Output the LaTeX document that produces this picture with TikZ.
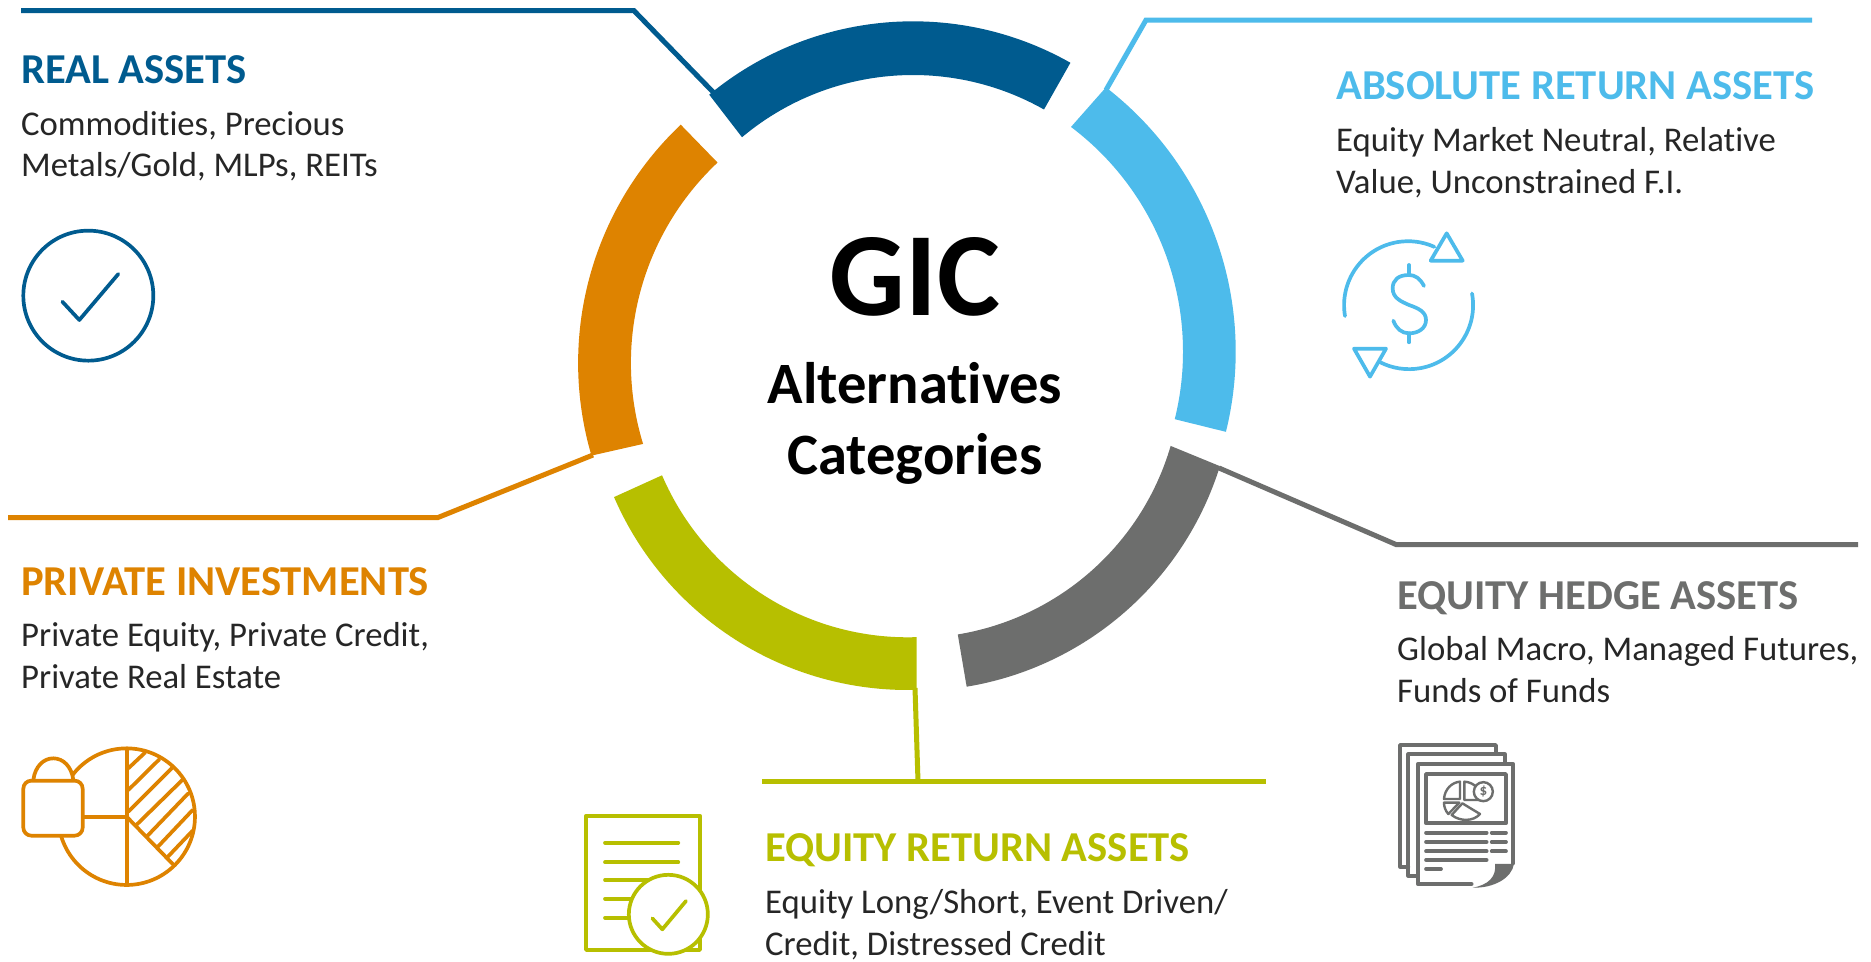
\documentclass[tikz,border=0pt]{standalone}
\usepackage{fontspec}
\setmainfont{Carlito}[Ligatures=NoCommon]
\definecolor{cnavy}{HTML}{005B8F}
\definecolor{csky}{HTML}{4DBBEB}
\definecolor{cgray}{HTML}{6D6E6D}
\definecolor{cgreen}{HTML}{B7BF00}
\definecolor{corange}{HTML}{DE8300}
\tikzset{
  head/.style={anchor=base west,inner sep=0pt,font=\fontsize{42.6}{42.6}\selectfont\bfseries},
  body/.style={anchor=base west,inner sep=0pt,text=black!85,font=\fontsize{34.7}{34.7}\selectfont},
  ctr/.style={anchor=base,inner sep=0pt,text=black,font=\bfseries},
  lead/.style={line width=5pt,line join=miter},
  ico/.style={line width=3.7pt,line cap=round,line join=round},
  thin ico/.style={line width=2.4pt,line cap=round,line join=round},
}
% colour, cx, cy, outer R, inner R, outer start, outer end, inner start, inner end
\newcommand{\ringseg}[9]{\fill[#1] ([shift={(#2,#3)}]#6:#4) arc[start angle=#6,end angle=#7,radius=#4] -- ([shift={(#2,#3)}]#9:#5) arc[start angle=#9,end angle=#8,radius=#5] -- cycle;}
\begin{document}
\begin{tikzpicture}[x=1pt,y=1pt]
\useasboundingbox (0,0) rectangle (1871,-961);
\fill[white] (0,0) rectangle (1871,-961);
% ring
\ringseg{cnavy}{913}{-341}{319.7}{266}{129.6}{60.5}{130}{60.5}
\ringseg{csky}{901.7}{-351.6}{334}{281.3}{52.3}{-13.9}{53}{-13.9}
\ringseg{cgray}{914.4}{-371}{320}{267}{-17.3}{-80.6}{-16.3}{-80.65}
\ringseg{cgreen}{907.7}{-370}{320}{267.3}{-88.4}{-156.6}{-88.1}{-156.8}
\ringseg{corange}{906.1}{-363}{328}{275.2}{196.4}{133.4}{197.1}{133.25}
% connectors
\coordinate (na) at (21,-10.7); \coordinate (nb) at (634,-10.7); \coordinate (nc) at (714,-93);
\coordinate (sa) at (1812,-20); \coordinate (sb) at (1146,-20); \coordinate (sc) at (1106,-90);
\coordinate (ga) at (1858,-544.5); \coordinate (gb) at (1396,-544.5); \coordinate (gc) at (1219,-468);
\coordinate (oa) at (8,-517.5); \coordinate (ob) at (438,-517.5); \coordinate (oc) at (593,-455);
\coordinate (va) at (762,-781.5); \coordinate (vb) at (1266,-781.5); \coordinate (vm) at (918,-781.5); \coordinate (vc) at (915,-688);
\draw[lead,cnavy] (na)--(nb)--(nc);
\draw[lead,csky] (sa)--(sb)--(sc);
\draw[lead,cgray] (ga)--(gb)--(gc);
\draw[lead,corange] (oa)--(ob)--(oc);
\draw[lead,cgreen] (va)--(vb);
\draw[lead,cgreen] (vm)--(vc);
% centre
\node[ctr,font=\fontsize{119}{119}\selectfont\bfseries] (gic) at (915,-315) {GIC};
\node[ctr,font=\fontsize{58.6}{58.6}\selectfont\bfseries] (alt) at (915,-403) {Alternatives};
\node[ctr,font=\fontsize{58.6}{58.6}\selectfont\bfseries] (cat) at (915,-474) {Categories};
% texts
\node[head,text=cnavy] (t1) at (21,-83.5) {REAL ASSETS};
\node[body] (t1a) at (21,-135.5) {Commodities, Precious};
\node[body] (t1b) at (21,-176.5) {Metals/Gold, MLPs, REITs};
\node[head,text=csky] (t2) at (1336,-99.5) {ABSOLUTE RETURN ASSETS};
\node[body] (t2a) at (1336,-151.5) {Equity Market Neutral, Relative};
\node[body] (t2b) at (1336,-193.5) {Value, Unconstrained F.I.};
\node[head,text=corange] (t3) at (21,-595) {PRIVATE INVESTMENTS};
\node[body] (t3a) at (21,-646) {Private Equity, Private Credit,};
\node[body] (t3b) at (21,-688) {Private Real Estate};
\node[head,text=cgray] (t4) at (1397,-609.5) {EQUITY HEDGE ASSETS};
\node[body] (t4a) at (1397,-660.5) {Global Macro, Managed Futures,};
\node[body] (t4b) at (1397,-702.5) {Funds of Funds};
\node[head,text=cgreen] (t5) at (765,-861.5) {EQUITY RETURN ASSETS};
\node[body] (t5a) at (765,-913.5) {Equity Long/Short, Event Driven/};
\node[body] (t5b) at (765,-955) {Credit, Distressed Credit};
% navy icon
\begin{scope}[shift={(0pt,-210pt)},x=0.3333pt,y=-0.3333pt,ico,cnavy]
\draw (265,257) circle[radius=65pt];
\draw (187,275)--(238,330)--(355,192);
\end{scope}
% sky icon
\draw[ico,csky] (1345,-316) arc[start angle=189.7,end angle=65.8,radius=64];
\draw[ico,csky] (1472,-293.5) arc[start angle=10.5,end angle=-117.5,radius=64];
\begin{scope}[shift={(1320pt,-210pt)},x=0.3333pt,y=-0.3333pt,ico,csky]
\draw (380,70)--(332,152)--(428,152)--cycle;
\draw (102,416)--(198,416)--(150,500)--cycle;
\draw (267,165)--(267,195) (267,370)--(267,397);
\draw (312,228) .. controls (300,205) and (285,195) .. (267,195) .. controls (235,195) and (218,210) .. (218,235) .. controls (218,265) and (245,275) .. (267,285) .. controls (295,295) and (318,305) .. (318,330) .. controls (318,355) and (295,370) .. (267,370) .. controls (245,370) and (228,355) .. (220,332);
\end{scope}
% orange icon
\begin{scope}[shift={(0pt,-700pt)},x=0.3333pt,y=-0.3333pt,ico,corange]
\draw (380,350) circle[radius=68.3pt];
\draw (381,145)--(381,555);
\draw (380,350)--(518,492);
\draw (385,205)--(435,158) (385,270)--(478,178) (385,335)--(515,205) (407,377)--(547,240) (440,410)--(565,280) (472,442)--(578,330) (502,472)--(578,392);
\draw (248,350)--(380,350);
\draw[fill=white] (100,240) .. controls (105,200) and (130,175) .. (160,175) .. controls (190,175) and (215,200) .. (220,240);
\draw[fill=white,rounded corners=8pt] (70,242) rectangle (248,407);
\end{scope}
% green icon
\begin{scope}[shift={(570pt,-790pt)},x=0.3333pt,y=-0.3333pt,ico,cgreen]
\draw (48,77) rectangle (390,480);
\draw (105,158)--(325,158) (105,217)--(325,217) (105,270)--(240,270) (105,326)--(190,326) (105,383)--(180,383);
\draw[fill=white] (295,373) circle[radius=39.5pt];
\draw (247,385)--(277,418)--(348,333);
\end{scope}
% gray icon
\begin{scope}[shift={(1370pt,-720pt)},x=0.3333pt,y=-0.3333pt,ico,cgray]
\draw (378,100)--(378,75)--(90,75)--(90,440)--(115,440);
\draw (405,130)--(405,103)--(115,103)--(115,467)--(143,467);
\draw (305,492)--(143,492)--(143,133)--(430,133)--(430,430);
\fill (375,432)--(432,432) .. controls (425,475) and (370,505) .. (308,503) .. controls (355,495) and (380,470) .. (375,432)--cycle;
\draw (168,162) rectangle (408,310);
\draw (168,338)--(350,338) (365,338)--(408,338) (168,366)--(350,366) (365,366)--(408,366) (168,394)--(350,394) (365,394)--(408,394) (168,420)--(350,420) (168,447)--(213,447);
\draw[thin ico] (270,185) .. controls (245,187) and (224,208) .. (222,237) -- (270,237) -- cycle;
\draw[thin ico] (283,185) .. controls (315,187) and (332,210) .. (334,240) -- (283,240) -- cycle;
\draw[thin ico] (277,250) -- (330,282) .. controls (310,305) and (270,305) .. (245,285) -- cycle;
\draw[thin ico] (222,248) -- (268,248) -- (235,282) .. controls (226,272) and (222,260) .. (222,248) -- cycle;
\draw[thin ico,fill=white] (340,215) circle[radius=9.5pt];
\node[inner sep=0pt,text=cgray,font=\fontsize{15}{15}\selectfont\bfseries] (dollar) at (340,215) {\$};
\end{scope}
\end{tikzpicture}
\end{document}
